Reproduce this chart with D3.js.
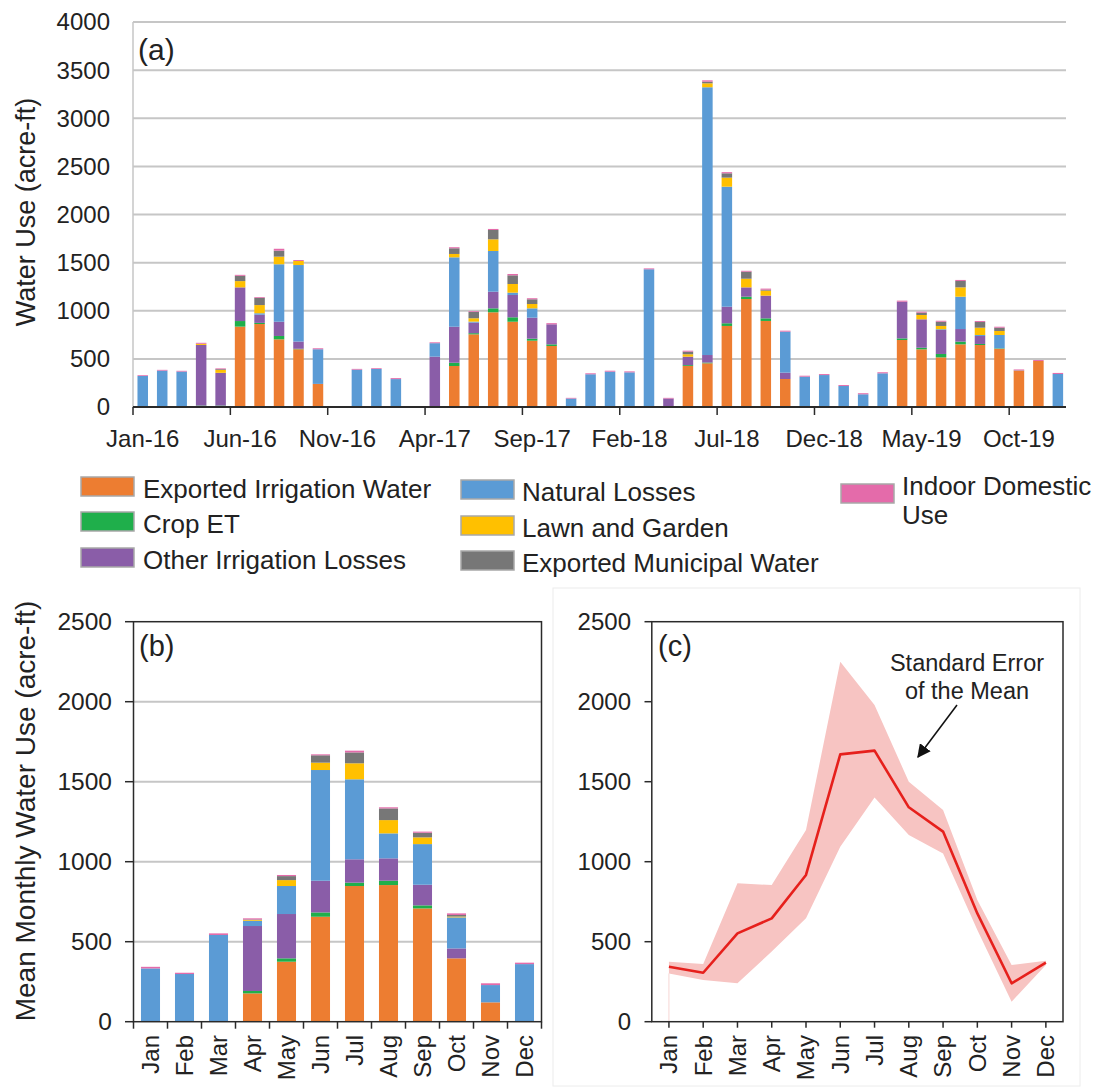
<!DOCTYPE html>
<html>
<head>
<meta charset="utf-8">
<script src="https://cdn.jsdelivr.net/npm/d3@7"></script>
<style>
  body { margin: 0; background: #fff; }
  svg { display: block; }
  text { font-family: "Liberation Sans", Arial, Helvetica, sans-serif; fill: #222; }
</style>
</head>
<body>
<svg id="fig" width="1099" height="1089"></svg>
<script>
// ---- Series (bottom to top of each stack) ----
const seriesKeys   = ["irrigationExport", "cropET", "otherIrrigation", "natural", "lawn", "municipal", "indoor"];
const seriesNames  = ["Exported Irrigation Water", "Crop ET", "Other Irrigation Losses", "Natural Losses",
                      "Lawn and Garden", "Exported Municipal Water", "Indoor Domestic Use"];
const seriesColors = ["#ED7D31", "#1FAF4B", "#8A5DA8", "#5B9BD5", "#FFC000", "#777777", "#E46BAA"];

// ---- (a) Monthly water use, Jan 2016 - Dec 2019 (acre-ft) ----
const tickLabelsA = ["Jan-16", "Jun-16", "Nov-16", "Apr-17", "Sep-17", "Feb-18", "Jul-18", "Dec-18", "May-19", "Oct-19"];
const irrigationExportA = [0,0,0,0,0,835,862,703,600,240, 0,0,0,0,0,0,426,755,984,886, 689,634,0,0,0,0,0,0,426,454, 842,1122,894,291,0,0,0,0,0,696, 599,516,651,644,605,377,478,0];
const cropETA           = [0,0,0,15,15,58,12,35,5,0, 0,0,0,0,0,8,34,12,41,46, 21,17,0,0,0,0,0,0,9,8, 28,24,27,0,0,0,0,0,0,17, 17,35,28,11,5,0,0,0];
const otherIrrigationA  = [0,0,0,630,340,350,85,148,75,0, 0,0,0,0,0,515,374,110,173,232, 218,208,0,0,0,0,0,88,88,78, 172,97,236,66,0,0,0,0,0,381, 295,249,131,83,0,0,0,0];
const naturalA          = [322,378,368,0,0,0,15,597,795,360, 0,388,395,290,0,140,721,10,423,24, 97,0,88,340,367,360,1431,0,0,2782, 1247,0,0,426,315,332,218,132,350,0, 0,8,336,10,138,0,0,343];
const lawnA             = [0,0,0,12,30,65,85,79,42,0, 0,0,0,0,0,0,35,35,121,90, 45,0,0,0,0,0,0,0,25,41, 94,90,52,0,0,0,0,0,0,0, 45,34,97,76,42,0,0,0];
const municipalA        = [0,0,0,0,8,55,75,62,0,0, 0,0,0,0,0,0,59,65,97,90, 49,0,0,0,0,0,0,0,27,17, 45,73,10,0,0,0,0,0,0,0, 24,44,66,59,34,4,0,0];
const indoorA           = [8,8,8,10,8,10,8,20,10,10, 0,8,8,10,0,9,11,8,11,14, 11,12,7,10,10,10,9,7,10,14, 12,9,11,10,10,10,10,11,11,11, 10,10,11,10,10,9,10,11];

// ---- (b) Mean monthly water use (acre-ft) ----
const monthNames = ["Jan","Feb","Mar","Apr","May","Jun","Jul","Aug","Sep","Oct","Nov","Dec"];
const irrigationExportB = [0,0,0,177,375,656,848,854,708,396,121,0];
const cropETB           = [0,0,0,15,21,27,21,27,19,0,0,0];
const otherIrrigationB  = [0,0,0,406,277,198,146,140,129,62,0,0];
const naturalB          = [333,298,542,33,175,692,500,156,254,194,108,360];
const lawnB             = [0,0,0,5,37,46,100,83,42,5,0,0];
const municipalB        = [0,0,0,3,25,46,68,73,29,10,0,0];
const indoorB           = [10,8,10,7,7,6,11,7,7,10,11,9];

// ---- (c) Mean monthly total with standard error band ----
const seUpper = [375,360,865,854,1198,2250,1979,1500,1323,760,354,381];
const seLower = [302,260,240,438,646,1094,1402,1167,1052,573,125,354];

// ---- Derived tables ----
const monthsA = d3.timeMonth.range(new Date(2016, 0, 1), new Date(2020, 0, 1)).map(d3.timeFormat("%b-%y"));
const colsA = [irrigationExportA, cropETA, otherIrrigationA, naturalA, lawnA, municipalA, indoorA];
const colsB = [irrigationExportB, cropETB, otherIrrigationB, naturalB, lawnB, municipalB, indoorB];
const rowsA = monthsA.map((m, i) => { const r = { cat: m }; seriesKeys.forEach((k, j) => r[k] = colsA[j][i]); return r; });
const rowsB = monthNames.map((m, i) => { const r = { cat: m }; seriesKeys.forEach((k, j) => r[k] = colsB[j][i]); return r; });
const meanTotal = rowsB.map(r => d3.sum(seriesKeys, k => r[k]));

const stack = d3.stack().keys(seriesKeys);
const color = d3.scaleOrdinal().domain(seriesKeys).range(seriesColors);
const svg = d3.select("#fig");
const GRID = "#c6c6c6";
const AXIS = "#2a2a2a";

function drawStacks(g, rows, x, y) {
  g.selectAll("g.layer").data(stack(rows)).join("g")
    .attr("class", "layer").attr("fill", d => color(d.key))
    .selectAll("rect").data(d => d).join("rect")
    .attr("x", d => x(d.data.cat))
    .attr("width", x.bandwidth())
    .attr("y", d => y(d[1]))
    .attr("height", d => Math.max(0, y(d[0]) - y(d[1])));
}

// ================= Panel (a) =================
{
  const x = d3.scaleBand().domain(monthsA).range([133, 1067.6]).paddingInner(0.46).paddingOuter(0.23);
  const y = d3.scaleLinear().domain([0, 4000]).range([407, 22]);
  const g = svg.append("g");
  const ticks = d3.range(0, 4001, 500);

  g.selectAll("line.grid").data(ticks.slice(1)).join("line")
    .attr("x1", 133).attr("x2", 1066).attr("y1", y).attr("y2", y)
    .attr("stroke", GRID).attr("stroke-width", 2);
  g.append("line").attr("x1", 133).attr("x2", 133).attr("y1", y(4000)).attr("y2", y(0))
    .attr("stroke", GRID).attr("stroke-width", 1.5);

  drawStacks(g.append("g"), rowsA, x, y);

  g.append("line").attr("x1", 133).attr("x2", 1066).attr("y1", y(0)).attr("y2", y(0))
    .attr("stroke", AXIS).attr("stroke-width", 2);
  const step = x.step();
  g.selectAll("line.tk").data(tickLabelsA).join("line")
    .attr("x1", d => 133 + step * monthsA.indexOf(d)).attr("x2", d => 133 + step * monthsA.indexOf(d))
    .attr("y1", y(0)).attr("y2", y(0) + 8).attr("stroke", AXIS).attr("stroke-width", 1.5);
  g.selectAll("text.xl").data(tickLabelsA).join("text")
    .attr("x", d => x(d) + x.bandwidth() / 2).attr("y", 447)
    .attr("text-anchor", "middle").attr("font-size", 24).text(d => d);
  g.selectAll("text.yl").data(ticks).join("text")
    .attr("x", 110).attr("y", y).attr("dy", "0.35em")
    .attr("text-anchor", "end").attr("font-size", 24).text(d => d);
  g.append("text").attr("transform", "translate(35,212) rotate(-90)")
    .attr("text-anchor", "middle").attr("font-size", 27).text("Water Use (acre-ft)");
  g.append("text").attr("x", 138).attr("y", 60).attr("font-size", 30).text("(a)");
}

// ================= Legend =================
{
  const pos = [
    { sx: 81, sy: 477, tx: 143, ty: 498 },
    { sx: 81, sy: 512, tx: 143, ty: 533 },
    { sx: 81, sy: 548, tx: 143, ty: 569 },
    { sx: 461, sy: 480, tx: 522, ty: 501 },
    { sx: 461, sy: 516, tx: 522, ty: 537 },
    { sx: 461, sy: 551, tx: 522, ty: 572 },
    { sx: 841, sy: 484, tx: 902, ty: 495 }
  ];
  const lg = svg.append("g");
  seriesKeys.forEach((k, i) => {
    const p = pos[i];
    lg.append("rect").attr("x", p.sx).attr("y", p.sy).attr("width", 53).attr("height", 19)
      .attr("fill", color(k)).attr("stroke", "#a8a8a8").attr("stroke-width", 1.5);
    const t = lg.append("text").attr("x", p.tx).attr("y", p.ty).attr("font-size", 26);
    if (k === "indoor") {
      t.append("tspan").attr("x", p.tx).text("Indoor Domestic");
      t.append("tspan").attr("x", p.tx).attr("dy", 28.5).text("Use");
    } else {
      t.text(seriesNames[i]);
    }
  });
}

// ================= Panel (b) =================
{
  const x = d3.scaleBand().domain(monthNames).range([133.5, 541.5]).paddingInner(0.44).paddingOuter(0.22);
  const y = d3.scaleLinear().domain([0, 2500]).range([1021.7, 621.7]);
  const g = svg.append("g");
  const ticks = d3.range(0, 2501, 500);

  g.selectAll("line.grid").data(ticks.slice(1, -1)).join("line")
    .attr("x1", 133.5).attr("x2", 541.5).attr("y1", y).attr("y2", y)
    .attr("stroke", GRID).attr("stroke-width", 2);

  drawStacks(g.append("g"), rowsB, x, y);

  g.append("rect").attr("x", 133.5).attr("y", y(2500)).attr("width", 408).attr("height", y(0) - y(2500))
    .attr("fill", "none").attr("stroke", AXIS).attr("stroke-width", 1.5);
  g.selectAll("line.ytk").data(ticks).join("line")
    .attr("x1", 125).attr("x2", 133.5).attr("y1", y).attr("y2", y).attr("stroke", AXIS).attr("stroke-width", 1.5);
  g.selectAll("line.xtk").data(d3.range(13)).join("line")
    .attr("x1", i => 133.5 + x.step() * i).attr("x2", i => 133.5 + x.step() * i)
    .attr("y1", y(0)).attr("y2", y(0) + 7).attr("stroke", AXIS).attr("stroke-width", 1.5);
  g.selectAll("text.yl").data(ticks).join("text")
    .attr("x", 112).attr("y", y).attr("dy", "0.35em")
    .attr("text-anchor", "end").attr("font-size", 24.5).text(d => d);
  g.selectAll("text.xl").data(monthNames).join("text")
    .attr("transform", d => `translate(${x(d) + x.bandwidth() / 2},1035) rotate(-90)`)
    .attr("dy", "0.35em").attr("text-anchor", "end").attr("font-size", 24).text(d => d);
  g.append("text").attr("transform", "translate(35,811) rotate(-90)")
    .attr("text-anchor", "middle").attr("font-size", 28).text("Mean Monthly Water Use (acre-ft)");
  g.append("text").attr("x", 139).attr("y", 656).attr("font-size", 29).text("(b)");
}

// ================= Panel (c) =================
{
  const x = d3.scaleBand().domain(monthNames).range([651.8, 1063]);
  const cx = m => x(m) + x.bandwidth() / 2;
  const y = d3.scaleLinear().domain([0, 2500]).range([1021.7, 621.7]);
  const g = svg.append("g");
  const ticks = d3.range(0, 2501, 500);

  // light frame around the panel
  g.append("rect").attr("x", 553).attr("y", 588).attr("width", 527).attr("height", 498)
    .attr("fill", "none").attr("stroke", "#ececec").attr("stroke-width", 1);

  const band = monthNames.map((m, i) => ({ m, lo: seLower[i], hi: seUpper[i], mean: meanTotal[i] }));
  g.append("path").datum(band)
    .attr("d", d3.area().x(d => cx(d.m)).y0(d => y(d.lo)).y1(d => y(d.hi)))
    .attr("fill", "#f7c4c2");
  g.append("line").attr("x1", cx("Jan")).attr("x2", cx("Jan")).attr("y1", y(seLower[0])).attr("y2", y(0))
    .attr("stroke", "#f6d6d4").attr("stroke-width", 1);
  g.append("path").datum(band)
    .attr("d", d3.line().x(d => cx(d.m)).y(d => y(d.mean)))
    .attr("fill", "none").attr("stroke", "#E6201C").attr("stroke-width", 2.6).attr("stroke-linejoin", "round");

  g.append("rect").attr("x", 651.8).attr("y", y(2500)).attr("width", 1063 - 651.8).attr("height", y(0) - y(2500))
    .attr("fill", "none").attr("stroke", AXIS).attr("stroke-width", 1.5);
  g.selectAll("line.ytk").data(ticks).join("line")
    .attr("x1", 644.5).attr("x2", 651.8).attr("y1", y).attr("y2", y).attr("stroke", AXIS).attr("stroke-width", 1.5);
  g.selectAll("line.xtk").data(monthNames).join("line")
    .attr("x1", cx).attr("x2", cx).attr("y1", y(0)).attr("y2", y(0) + 6).attr("stroke", AXIS).attr("stroke-width", 1.5);
  g.selectAll("text.yl").data(ticks).join("text")
    .attr("x", 631).attr("y", y).attr("dy", "0.35em")
    .attr("text-anchor", "end").attr("font-size", 24).text(d => d);
  g.selectAll("text.xl").data(monthNames).join("text")
    .attr("transform", d => `translate(${cx(d)},1035) rotate(-90)`)
    .attr("dy", "0.35em").attr("text-anchor", "end").attr("font-size", 24).text(d => d);
  g.append("text").attr("x", 658).attr("y", 656).attr("font-size", 29).text("(c)");

  // annotation for the shaded band
  const defs = svg.append("defs");
  defs.append("marker").attr("id", "arrowHead").attr("viewBox", "0 0 10 10")
    .attr("refX", 9).attr("refY", 5).attr("markerWidth", 9).attr("markerHeight", 9)
    .attr("orient", "auto-start-reverse")
    .append("path").attr("d", "M0,0 L10,5 L0,10 z").attr("fill", "#111");
  g.append("line").attr("x1", 957).attr("y1", 705).attr("x2", 918).attr("y2", 757)
    .attr("stroke", "#111").attr("stroke-width", 1.5).attr("marker-end", "url(#arrowHead)");
  g.append("text").attr("x", 967).attr("y", 671).attr("text-anchor", "middle").attr("font-size", 23.5).text("Standard Error");
  g.append("text").attr("x", 967).attr("y", 699).attr("text-anchor", "middle").attr("font-size", 23.5).text("of the Mean");
}
</script>
</body>
</html>
